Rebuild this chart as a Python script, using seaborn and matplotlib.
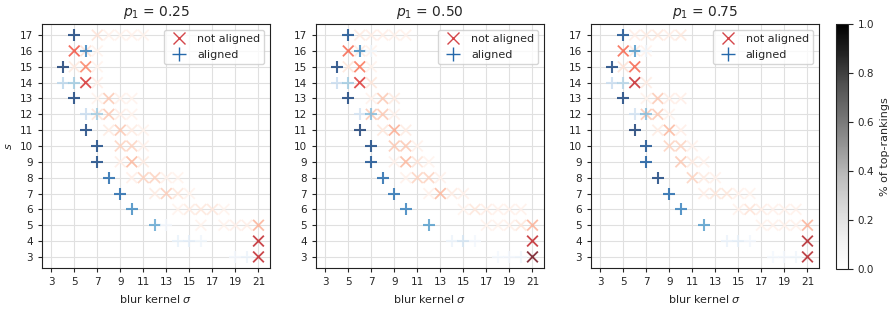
import numpy as np
import pandas as pd
import matplotlib
matplotlib.use("Agg")
import matplotlib.pyplot as plt
import seaborn as sns
from matplotlib.lines import Line2D
from matplotlib.cm import ScalarMappable
from matplotlib.colors import Normalize

P_VALUES = ["0.25", "0.50", "0.75"]
SIGMA_TICKS = list(range(3, 22, 2))
S_TICKS = list(range(3, 18))

# ---------------- p1 = 0.25 ----------------
AL25_SIGMA = [5, 6, 4, 4, 5, 5, 6, 7, 6, 7, 7, 8, 9, 10, 12, 13, 14, 15, 16, 19, 20]
AL25_S     = [17, 16, 15, 14, 14, 13, 12, 12, 11, 10, 9, 8, 7, 6, 5, 5, 4, 4, 4, 3, 3]
AL25_VAL   = [0.97, 0.72, 1.0, 0.3, 0.38, 0.97, 0.25, 0.38, 0.97, 0.95, 0.95, 0.82, 0.82, 0.68, 0.55, 0.03, 0.08, 0.1, 0.04, 0.03, 0.06]

NA25_SIGMA = [7, 8, 9, 10, 11, 5, 6, 7, 5, 6, 7, 6, 7, 7, 8, 9, 10, 7, 8, 9, 10,
              8, 9, 10, 11, 9, 10, 11, 9, 10, 11, 10, 11, 12, 13, 14, 12, 13, 14, 15,
              14, 15, 16, 17, 18, 16, 18, 19, 20, 21, 21, 21]
NA25_S     = [17, 17, 17, 17, 17, 16, 16, 16, 15, 15, 15, 14, 14, 13, 13, 13, 13, 12, 12, 12, 12,
              11, 11, 11, 11, 10, 10, 10, 9, 9, 9, 8, 8, 8, 8, 8, 7, 7, 7, 7,
              6, 6, 6, 6, 6, 5, 5, 5, 5, 5, 4, 3]
NA25_VAL   = [0.12, 0.03, 0.02, 0.03, 0.02, 0.6, 0.12, 0.02, 0.08, 0.45, 0.02, 0.72, 0.05, 0.02, 0.22, 0.03, 0.02, 0.12, 0.22, 0.05, 0.02,
              0.07, 0.22, 0.07, 0.02, 0.18, 0.18, 0.03, 0.05, 0.28, 0.07, 0.05, 0.18, 0.18, 0.03, 0.02, 0.07, 0.2, 0.1, 0.02,
              0.02, 0.07, 0.09, 0.09, 0.02, 0.02, 0.02, 0.04, 0.05, 0.3, 0.8, 0.8]

# ---------------- p1 = 0.50 ----------------
AL50_SIGMA = [5, 6, 7, 4, 4, 5, 5, 6, 7, 6, 7, 7, 8, 9, 10, 12, 14, 15, 16, 18, 19, 20]
AL50_S     = [17, 16, 16, 15, 14, 14, 13, 12, 12, 11, 10, 9, 8, 7, 6, 5, 4, 4, 4, 3, 3, 3]
AL50_VAL   = [0.92, 0.68, 0.04, 0.97, 0.25, 0.38, 0.97, 0.2, 0.45, 1.0, 0.95, 0.92, 0.82, 0.78, 0.72, 0.6, 0.06, 0.18, 0.03, 0.02, 0.03, 0.05]

NA50_SIGMA = [6, 7, 8, 9, 10, 19, 5, 6, 7, 5, 6, 7, 6, 7, 7, 8, 9, 7, 8, 9,
              8, 9, 10, 9, 10, 11, 9, 10, 11, 12, 10, 11, 12, 13, 12, 13, 14, 15,
              15, 16, 17, 18, 19, 20, 17, 18, 19, 20, 21, 21, 21]
NA50_S     = [17, 17, 17, 17, 17, 17, 16, 16, 16, 15, 15, 15, 14, 14, 13, 13, 13, 12, 12, 12,
              11, 11, 11, 10, 10, 10, 9, 9, 9, 9, 8, 8, 8, 8, 7, 7, 7, 7,
              6, 6, 6, 6, 6, 6, 5, 5, 5, 5, 5, 4, 3]
NA50_VAL   = [0.07, 0.05, 0.05, 0.03, 0.03, 0.02, 0.55, 0.07, 0.02, 0.1, 0.5, 0.02, 0.7, 0.1, 0.03, 0.22, 0.07, 0.22, 0.22, 0.03,
              0.1, 0.32, 0.07, 0.22, 0.22, 0.03, 0.03, 0.28, 0.12, 0.02, 0.03, 0.18, 0.18, 0.03, 0.03, 0.28, 0.07, 0.03,
              0.02, 0.1, 0.05, 0.03, 0.03, 0.03, 0.02, 0.02, 0.03, 0.1, 0.3, 0.8, 1.0]

# ---------------- p1 = 0.75 ----------------
AL75_SIGMA = [5, 6, 7, 4, 4, 5, 5, 6, 7, 6, 7, 7, 8, 9, 10, 12, 14, 15, 16, 18, 19, 20]
AL75_S     = [17, 16, 16, 15, 14, 14, 13, 12, 12, 11, 10, 9, 8, 7, 6, 5, 4, 4, 4, 3, 3, 3]
AL75_VAL   = [0.92, 0.62, 0.05, 0.97, 0.25, 0.32, 0.97, 0.2, 0.45, 1.0, 0.92, 0.88, 0.97, 0.82, 0.72, 0.6, 0.07, 0.09, 0.03, 0.02, 0.03, 0.04]

NA75_SIGMA = [6, 7, 8, 9, 10, 19, 5, 6, 7, 5, 6, 6, 7, 7, 8, 9, 10, 7, 8, 9,
              8, 9, 10, 9, 10, 11, 10, 11, 12, 11, 12, 13, 12, 13, 14, 15, 16,
              15, 16, 17, 18, 19, 20, 17, 18, 19, 20, 21, 21, 21]
NA75_S     = [17, 17, 17, 17, 17, 17, 16, 16, 16, 15, 15, 14, 14, 13, 13, 13, 13, 12, 12, 12,
              11, 11, 11, 10, 10, 10, 9, 9, 9, 8, 8, 8, 7, 7, 7, 7, 7,
              6, 6, 6, 6, 6, 6, 5, 5, 5, 5, 5, 4, 3]
NA75_VAL   = [0.05, 0.07, 0.09, 0.05, 0.09, 0.02, 0.55, 0.07, 0.02, 0.12, 0.55, 0.78, 0.07, 0.02, 0.22, 0.05, 0.05, 0.22, 0.22, 0.02,
              0.07, 0.28, 0.05, 0.18, 0.18, 0.03, 0.22, 0.07, 0.03, 0.18, 0.07, 0.03, 0.05, 0.1, 0.1, 0.03, 0.02,
              0.03, 0.12, 0.05, 0.03, 0.03, 0.03, 0.02, 0.03, 0.03, 0.03, 0.3, 0.85, 0.85]

PANELS = [
    (AL25_SIGMA, AL25_S, AL25_VAL, NA25_SIGMA, NA25_S, NA25_VAL),
    (AL50_SIGMA, AL50_S, AL50_VAL, NA50_SIGMA, NA50_S, NA50_VAL),
    (AL75_SIGMA, AL75_S, AL75_VAL, NA75_SIGMA, NA75_S, NA75_VAL),
]

sns.set_style("ticks")
plt.rcParams['font.family'] = ['DejaVu Sans']

fig = plt.figure(figsize=(8.92, 3.09), dpi=100)
W, H = 892.0, 309.0
lefts = [42, 316, 591]
axes = [fig.add_axes([l / W, 1 - 268 / H, 228 / W, 244 / H]) for l in lefts]
cax = fig.add_axes([836 / W, 1 - 269 / H, 12 / W, 245 / H])

reds = plt.get_cmap("Reds")
blues = plt.get_cmap("Blues")

for i, (ax, data) in enumerate(zip(axes, PANELS)):
    a_sig, a_s, a_v, n_sig, n_s, n_v = data
    df_n = pd.DataFrame({"sigma": n_sig, "s": n_s, "val": n_v})
    df_a = pd.DataFrame({"sigma": a_sig, "s": a_s, "val": a_v})
    ax.grid(True, color="#e0e0e0", linewidth=0.8, zorder=0)
    ax.set_axisbelow(True)
    sns.scatterplot(data=df_n, x="sigma", y="s", hue="val", palette="Reds",
                    hue_norm=(0, 1), marker="x", s=60, linewidth=1.3,
                    alpha=0.78, legend=False, ax=ax, zorder=3)
    sns.scatterplot(data=df_a, x="sigma", y="s", hue="val", palette="Blues",
                    hue_norm=(0, 1), marker="+", s=75, linewidth=1.5,
                    alpha=0.78, legend=False, ax=ax, zorder=4)
    ax.set_xlim(2.2, 22.0)
    ax.set_ylim(2.3, 17.7)
    ax.set_xticks(SIGMA_TICKS)
    ax.set_yticks(S_TICKS)
    ax.tick_params(labelsize=7.5, length=3)
    ax.set_xlabel(r"blur kernel $\sigma$", fontsize=8)
    if i == 0:
        ax.set_ylabel(r"$s$", fontsize=8)
    else:
        ax.set_ylabel("")
    ax.set_title(r"$p_1$ = " + P_VALUES[i], fontsize=10)
    for sp in ax.spines.values():
        sp.set_color("#222222")
    handles = [
        Line2D([], [], marker="x", color=reds(0.75), alpha=0.8, linestyle="", markersize=9, markeredgewidth=1.0),
        Line2D([], [], marker="+", color=blues(0.85), alpha=0.9, linestyle="", markersize=10, markeredgewidth=1.0),
    ]
    ax.legend(handles, ["not aligned", "aligned"], loc="upper right", fontsize=8,
              frameon=True, handletextpad=0.6, borderpad=0.4)

sm = ScalarMappable(norm=Normalize(0, 1), cmap="Greys")
cb = fig.colorbar(sm, cax=cax)
cb.set_label("% of top-rankings", fontsize=8)
cb.ax.tick_params(labelsize=7.5)
cb.outline.set_edgecolor("#222222")

fig.savefig("out.png", dpi=100)
